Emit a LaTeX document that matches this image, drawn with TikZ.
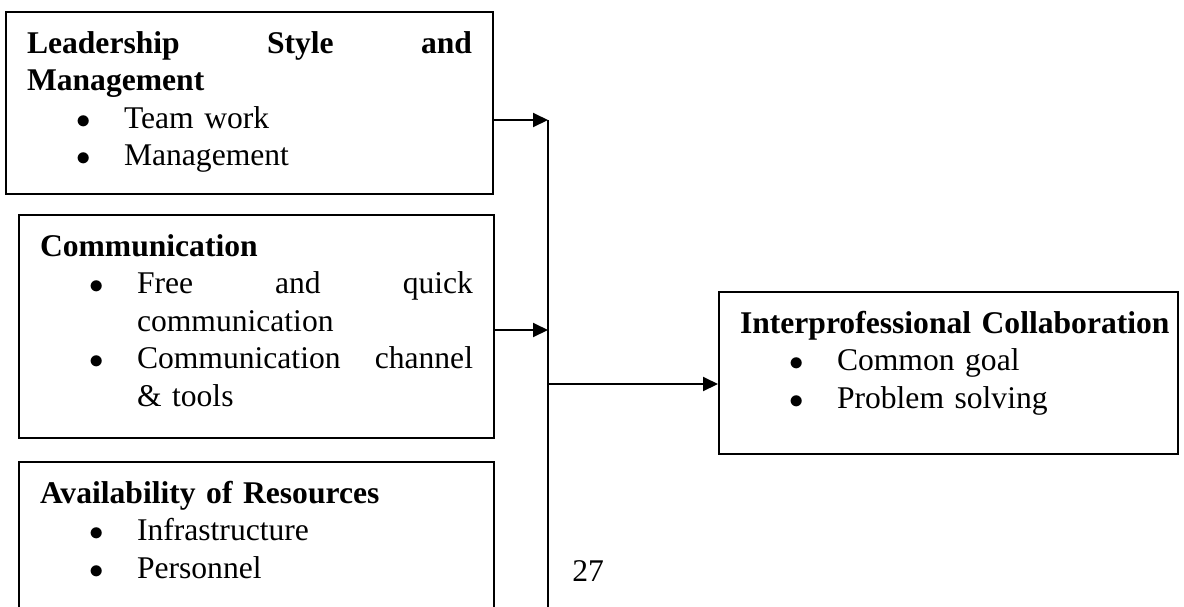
\documentclass[tikz,border=0pt]{standalone}
\usepackage{fontspec}
\setmainfont{Liberation Serif}
\usetikzlibrary{arrows.meta}
\newcommand{\bul}{\hspace*{24.75pt}\makebox[23.75pt][l]{$\bullet$}}
\newcommand{\cont}{\hspace*{48.5pt}}

\begin{document}
\begin{tikzpicture}[x=0.5pt, y=-0.5pt, box/.style = {draw, line width=1pt, anchor=north west, inner ysep=0pt, inner xsep=10.5pt, align=left, text height=20.5pt, font=\fontsize{15.8}{18.75}\selectfont}, link/.style = {line width=1pt}, arr/.style = {line width=1pt, -{Triangle[length=7.5pt, width=7pt]}}]
	\clip (0,0) rectangle (1184,606);
	\node[box, text width=222.5pt, text depth=70.5pt] (lead) at (5,11) {\textbf{Leadership\hfill Style\hfill and}\\ \textbf{Management}\\ \bul Team work\\ \bul Management};
	\node[box, text width=216.5pt, text depth=91pt] (comm) at (18,214) {\textbf{Communication}\\ \bul Free\hfill and\hfill quick\\ \cont communication\\ \bul Communication\hfill channel\\ \cont\&~tools};
	\node[box, text width=216.5pt, text depth=61.5pt] (res) at (18,461) {\textbf{Availability of Resources}\\ \bul Infrastructure\\ \bul Personnel};
	\node[box, text width=208.5pt, text depth=60.5pt] (ipc) at (718,291) {\mbox{\textbf{Interprofessional Collaboration}}\\ \bul Common goal\\ \bul Problem solving};
	\node[anchor=base west, inner sep=0pt, font=\fontsize{15.8}{18.75}\selectfont] (pg) at (572,581) {27};
	\coordinate (j1) at (548,120);
	\coordinate (j2) at (548,330);
	\coordinate (j3) at (548,384);
	\coordinate (jend) at (548,620);
	\draw[link] (j1) -- (jend);
	\draw[arr] (lead.east |- j1) -- (j1);
	\draw[arr] (comm.east |- j2) -- (j2);
	\draw[arr] (j3) -- (ipc.west |- j3);
\end{tikzpicture}
\end{document}
